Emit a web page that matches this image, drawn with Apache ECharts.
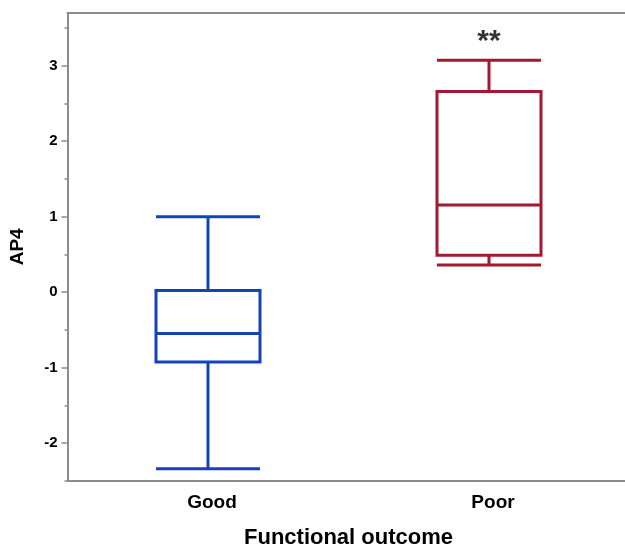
<!DOCTYPE html>
<html>
<head>
<meta charset="utf-8">
<script src="https://cdn.jsdelivr.net/npm/echarts@6/dist/echarts.min.js"></script>
<style>
html,body{margin:0;padding:0;background:#fff;}
#chart{width:625px;height:547px;}
</style>
</head>
<body>
<div id="chart"></div>
<script>
const categories = ['Good', 'Poor'];
// [min, Q1, median, Q3, max]
const goodBox = [-2.34, -0.925, -0.55, 0.02, 1.0];
const poorBox = [0.36, 0.49, 1.155, 2.66, 3.075];
const boxColors = ['#1443B4', '#A3192F'];
const majorTicks = [-2, -1, 0, 1, 2, 3];
const minorTicks = [-2.5, -1.5, -0.5, 0.5, 1.5, 2.5, 3.5];
const annotation = { category: 'Poor', value: 3.32, text: '**' };

const axisGray = '#8c8c8c';
const font = 'Liberation Sans, Arial, sans-serif';

const chart = echarts.init(document.getElementById('chart'));
chart.setOption({
  animation: false,
  backgroundColor: '#fff',
  grid: { left: 67.5, top: 13, width: 562, bottom: 66.3, containLabel: false, outerBoundsMode: 'none' },
  xAxis: [{
    type: 'category',
    data: categories,
    position: 'bottom',
    name: 'Functional outcome',
    nameLocation: 'middle',
    nameGap: 46,
    nameTextStyle: { fontFamily: font, fontWeight: 'bold', fontSize: 22, color: '#000' },
    axisLine: { show: true, onZero: false, lineStyle: { color: axisGray, width: 2 } },
    axisTick: { show: false },
    axisLabel: { fontFamily: font, fontWeight: 'bold', fontSize: 19, color: '#000', margin: 13, padding: [0, 0, 0, 8] },
    splitLine: { show: false }
  }, {
    type: 'category',
    data: categories,
    position: 'top',
    axisLine: { show: true, onZero: false, lineStyle: { color: axisGray, width: 2 } },
    axisTick: { show: false },
    axisLabel: { show: false },
    splitLine: { show: false }
  }],
  yAxis: [{
    type: 'value',
    min: -2.5,
    max: 3.7,
    name: 'AP4',
    nameLocation: 'middle',
    nameGap: 40,
    nameTextStyle: { fontFamily: font, fontWeight: 'bold', fontSize: 19, color: '#000' },
    axisLine: { show: true, onZero: false, lineStyle: { color: axisGray, width: 2 } },
    axisTick: { show: true, length: 6, customValues: majorTicks, lineStyle: { color: axisGray, width: 1.5 } },
    axisLabel: { customValues: majorTicks, fontFamily: font, fontWeight: 'bold', fontSize: 15, color: '#000', margin: 10 },
    splitLine: { show: false }
  }, {
    type: 'value',
    min: -2.5,
    max: 3.7,
    position: 'left',
    axisLine: { show: false, onZero: false },
    axisTick: { show: true, length: 3, customValues: minorTicks, lineStyle: { color: axisGray, width: 1.5 } },
    axisLabel: { show: false },
    splitLine: { show: false }
  }],
  series: [{
    type: 'boxplot',
    xAxisIndex: 0,
    yAxisIndex: 0,
    boxWidth: [104, 104],
    data: [
      { value: goodBox, itemStyle: { color: 'rgba(255,255,255,0)', borderColor: boxColors[0], borderWidth: 3 } },
      { value: poorBox, itemStyle: { color: 'rgba(255,255,255,0)', borderColor: boxColors[1], borderWidth: 3 } }
    ]
  }, {
    type: 'scatter',
    xAxisIndex: 0,
    yAxisIndex: 0,
    symbolSize: 0,
    silent: true,
    data: [[annotation.category, annotation.value]],
    label: {
      show: true,
      position: 'inside',
      formatter: annotation.text,
      fontFamily: font,
      fontWeight: 'bold',
      fontSize: 30,
      color: '#000',
      textBorderWidth: 0
    }
  }]
});
</script>
</body>
</html>
